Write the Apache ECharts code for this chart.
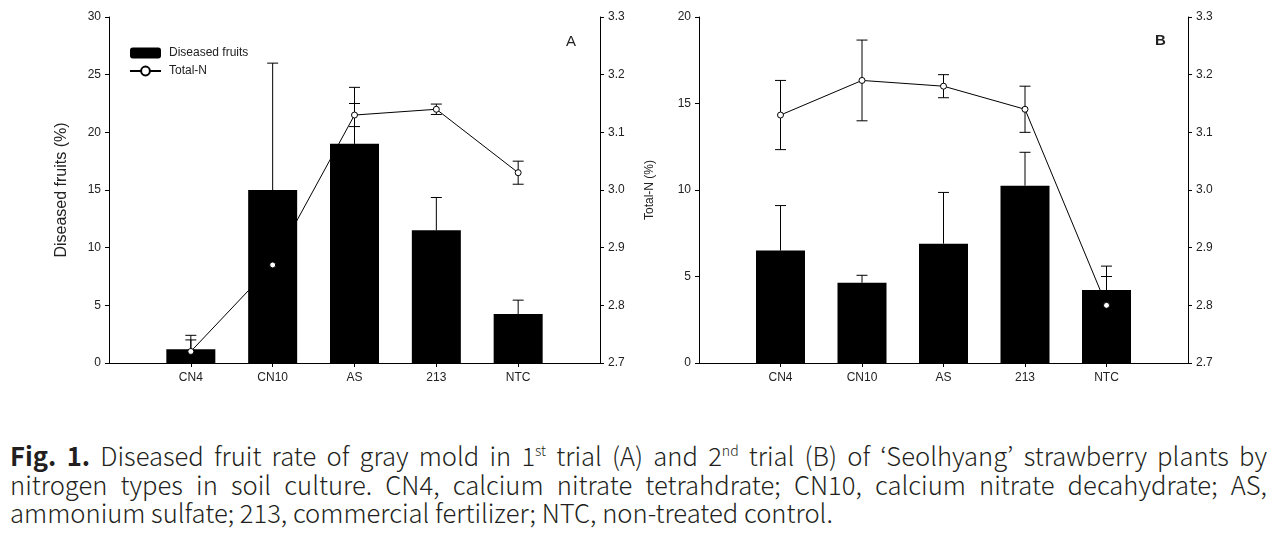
<!DOCTYPE html>
<html>
<head>
<meta charset="utf-8">
<script src="https://cdn.jsdelivr.net/npm/echarts@6/dist/echarts.min.js"></script>
<style>
  html, body { margin: 0; padding: 0; background: #fff; }
  #chart { position: absolute; left: 0; top: 0; width: 1287px; height: 420px; }
  .cap { position: absolute; left: 10px; width: 1257px; font-family: "Noto Sans CJK KR", "Noto Sans", sans-serif;
         font-size: 25.6px; font-weight: 300; line-height: 28.5px; color: #231f20; white-space: nowrap; }
  .cap b { font-weight: 700; }
  .just { text-align: justify; text-align-last: justify; white-space: normal; }
  .cap sup { font-size: 14px; line-height: 0; vertical-align: 0; position: relative; top: -10px; }
</style>
</head>
<body>
<div id="chart"></div>
<div class="cap just" style="top:441px"><b>Fig. 1.</b> Diseased fruit rate of gray mold in 1<sup>st</sup> trial (A) and 2<sup>nd</sup> trial (B) of ‘Seolhyang’ strawberry plants by</div>
<div class="cap just" style="top:469.5px">nitrogen types in soil culture. CN4, calcium nitrate tetrahdrate; CN10, calcium nitrate decahydrate; AS,</div>
<div class="cap" style="top:498px">ammonium sulfate; 213, commercial fertilizer; NTC, non-treated control.</div>
<script>
// ---- data ----
const categories = ['CN4', 'CN10', 'AS', '213', 'NTC'];
// Panel A (1st trial)
const diseasedA = [1.2, 15.0, 19.0, 11.5, 4.25];
const diseasedErrA = [1.2, 11.0, 4.9, 2.85, 1.2];
const totalNA = [2.72, 2.87, 3.13, 3.14, 3.03];
const totalNErrA = [0.02, 0.05, 0.02, 0.009, 0.02];
// Panel B (2nd trial)
const diseasedB = [6.5, 4.64, 6.9, 10.25, 4.22];
const diseasedErrB = [2.6, 0.43, 2.96, 1.93, 1.38];
const totalNB = [3.13, 3.19, 3.18, 3.14, 2.80];
const totalNErrB = [0.06, 0.07, 0.02, 0.04, 0.05];
// axis ticks
const leftTicksA = [0, 30, 5];
const leftTicksB = [0, 20, 5];
const rightTicks = [2.7, 3.3, 0.1];

const cats = [''].concat(categories, ['']);
const pad = arr => [null].concat(arr, [null]);

const labelFont = { fontFamily: 'Liberation Sans, Arial, sans-serif', fontSize: 12, color: '#222' };

function xAxis(grid) {
  return {
    type: 'category', gridIndex: grid, data: cats, boundaryGap: false,
    axisLine: { lineStyle: { color: '#000', width: 1 } },
    axisTick: { length: 4, lineStyle: { color: '#000' }, interval: (i) => i > 0 && i < cats.length - 1 },
    axisLabel: Object.assign({ margin: 9, interval: 0 }, labelFont),
    splitLine: { show: false }
  };
}
function yAxis(grid, pos, t, name, nameGap, nameSize, decimals) {
  return {
    type: 'value', gridIndex: grid, position: pos, min: t[0], max: t[1], interval: t[2],
    name: name, nameLocation: 'middle', nameRotate: 90, nameGap: nameGap,
    nameTextStyle: { fontFamily: 'Liberation Sans, Arial, sans-serif', fontSize: nameSize, color: '#222' },
    axisLine: { show: true, lineStyle: { color: '#000', width: 1 } },
    axisTick: { show: true, length: 4, lineStyle: { color: '#000' } },
    axisLabel: Object.assign({ margin: 8, formatter: v => v.toFixed(decimals) }, labelFont),
    splitLine: { show: false }
  };
}

function errData(vals, errs, upOnly) {
  return vals.map((v, i) => [i + 1, upOnly ? v : v - errs[i], v + errs[i]]);
}
function errRender(upOnly) {
  return function (params, api) {
    const x = api.value(0);
    const lo = api.coord([x, api.value(1)]);
    const hi = api.coord([x, api.value(2)]);
    const w = 5.5;
    const style = { stroke: '#000', lineWidth: 1 };
    const children = [
      { type: 'line', shape: { x1: lo[0], y1: lo[1], x2: hi[0], y2: hi[1] }, style: style },
      { type: 'line', shape: { x1: hi[0] - w, y1: hi[1], x2: hi[0] + w, y2: hi[1] }, style: style }
    ];
    if (!upOnly) children.push({ type: 'line', shape: { x1: lo[0] - w, y1: lo[1], x2: lo[0] + w, y2: lo[1] }, style: style });
    return { type: 'group', children: children };
  };
}

function panelSeries(suffix, xi, yl, yr, bars, barErr, tn, tnErr) {
  return [
    { name: 'Diseased fruits' + suffix, type: 'bar', xAxisIndex: xi, yAxisIndex: yl, data: pad(bars),
      barWidth: 49, itemStyle: { color: '#000' }, z: 2, animation: false },
    { type: 'custom', xAxisIndex: xi, yAxisIndex: yl, data: errData(bars, barErr, true),
      renderItem: errRender(true), z: 3, animation: false, silent: true },
    { type: 'custom', xAxisIndex: xi, yAxisIndex: yr, data: errData(tn, tnErr, false),
      renderItem: errRender(false), z: 3, animation: false, silent: true, clip: true },
    { name: 'Total-N' + suffix, type: 'line', xAxisIndex: xi, yAxisIndex: yr, data: pad(tn),
      connectNulls: false, symbol: 'circle', symbolSize: 6, showAllSymbol: true,
      lineStyle: { color: '#000', width: 1 },
      itemStyle: { color: '#fff', borderColor: '#000', borderWidth: 1 }, z: 4, animation: false }
  ];
}

const chart = echarts.init(document.getElementById('chart'), null, { renderer: 'canvas' });
chart.setOption({
  animation: false,
  backgroundColor: '#fff',
  grid: [
    { left: 109, top: 17, width: 491, height: 346 },
    { left: 699, top: 17, width: 489, height: 346 }
  ],
  xAxis: [xAxis(0), xAxis(1)],
  yAxis: [
    yAxis(0, 'left', leftTicksA, 'Diseased fruits (%)', 39, 16, 0),
    yAxis(0, 'right', rightTicks, 'Total-N (%)', 44, 12, 1),
    yAxis(1, 'left', leftTicksB, '', 30, 12, 0),
    yAxis(1, 'right', rightTicks, '', 30, 12, 1)
  ],
  legend: {
    data: ['Diseased fruits', 'Total-N'], orient: 'vertical', left: 124, top: 42,
    itemWidth: 31, itemHeight: 11, itemGap: 6,
    textStyle: { fontFamily: 'Liberation Sans, Arial, sans-serif', fontSize: 12, color: '#222', padding: [0, 0, 0, 3] },
    selectedMode: false
  },
  graphic: [
    { type: 'text', left: 566, top: 34, style: { text: 'A', font: '15px "Liberation Sans", Arial, sans-serif', fill: '#222' } },
    { type: 'text', left: 1155, top: 33, style: { text: 'B', font: 'bold 15px "Liberation Sans", Arial, sans-serif', fill: '#222' } }
  ],
  series: [].concat(
    panelSeries('', 0, 0, 1, diseasedA, diseasedErrA, totalNA, totalNErrA),
    panelSeries(' B', 1, 2, 3, diseasedB, diseasedErrB, totalNB, totalNErrB)
  )
});
</script>
</body>
</html>
